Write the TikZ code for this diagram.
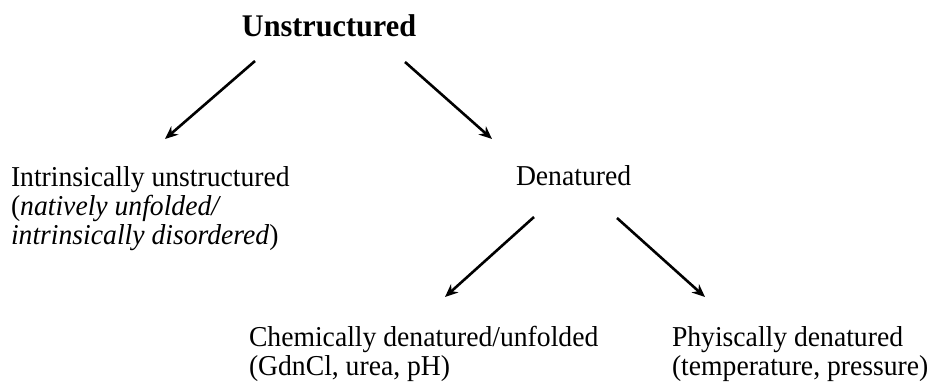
\documentclass[tikz,border=0pt]{standalone}
\usepackage{fontspec}
\setmainfont{Liberation Serif}[FakeStretch=0.96]
\usetikzlibrary{arrows.meta}
\begin{document}
\begin{tikzpicture}[x=1pt,y=1pt,
  lbl/.style={inner sep=0pt, outer sep=0pt, anchor=base west, font=\fontsize{28.8}{28}\selectfont},
  ttl/.style={inner sep=0pt, outer sep=0pt, anchor=base, font=\fontsize{31.5}{31}\selectfont\bfseries},
  arr/.style={line width=2.6pt, -{Stealth[length=13pt,width=11pt]}}]
\useasboundingbox (0,0) rectangle (932,383);
\node[ttl] (top) at (329,346) {Unstructured};
\node[lbl] (intr) at (11,196) {\begin{tabular}[t]{@{}l@{}}Intrinsically unstructured\\(\textit{natively unfolded/}\\\textit{intrinsically disordered})\end{tabular}};
\node[lbl] (den) at (516,197) {Denatured};
\node[lbl] (chem) at (249,36) {\begin{tabular}[t]{@{}l@{}}Chemically denatured/unfolded\\(GdnCl, urea, pH)\end{tabular}};
\node[lbl] (phys) at (672,36) {\begin{tabular}[t]{@{}l@{}}Phyiscally denatured\\(temperature, pressure)\end{tabular}};
\draw[arr] ([shift={(-74,-24)}]top.base) -- ([shift={(154,48)}]intr.base west);
\draw[arr] ([shift={(76,-25)}]top.base) -- ([shift={(-24,47)}]den.base west);
\draw[arr] ([shift={(18,-31)}]den.base west) -- ([shift={(196,50)}]chem.base west);
\draw[arr] ([shift={(101,-32)}]den.base west) -- ([shift={(33,50)}]phys.base west);
\end{tikzpicture}
\end{document}
